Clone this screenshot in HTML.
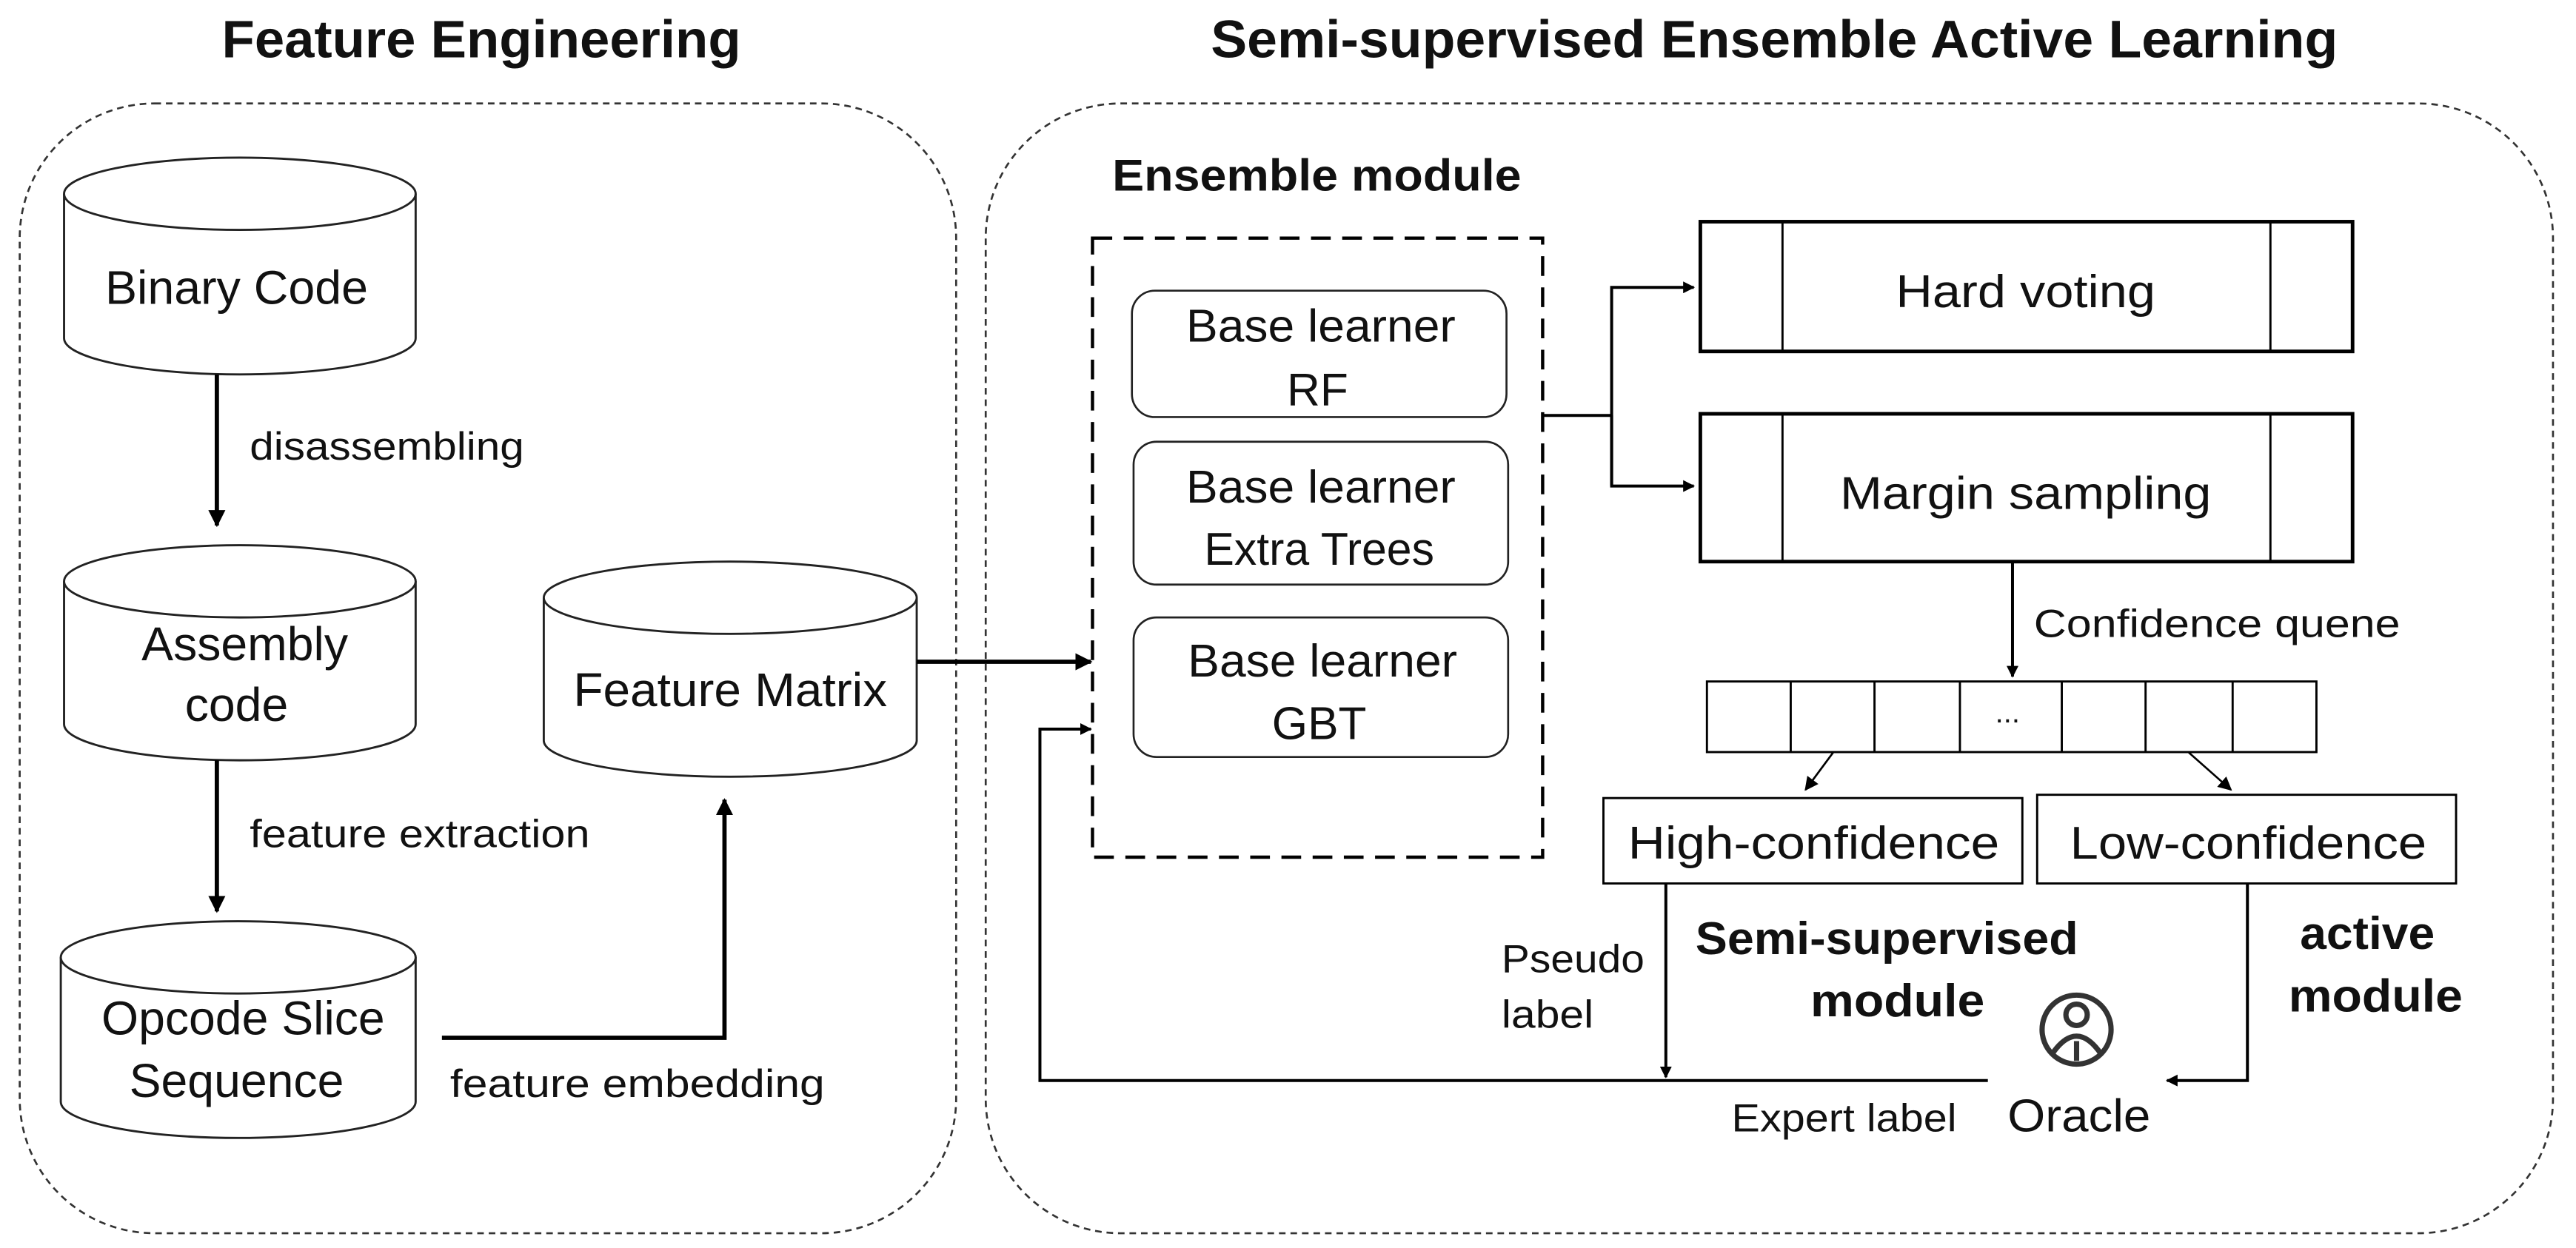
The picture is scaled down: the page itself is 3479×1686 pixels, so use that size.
<!DOCTYPE html>
<html><head><meta charset="utf-8"><style>
html,body{margin:0;padding:0;background:#fff;}
svg{display:block;}
text{font-family:"Liberation Sans",sans-serif;fill:#111;}
.t{font-size:29px;}
.s{font-size:24px;}
.n{font-size:28px;}
.b{font-weight:bold;}
</style></head><body>
<svg width="3479" height="1686" viewBox="0 0 1568 760" preserveAspectRatio="none" xmlns="http://www.w3.org/2000/svg">
<defs>
<marker id="a" viewBox="0 0 10 10" refX="9" refY="5" markerWidth="4" markerHeight="4" orient="auto-start-reverse"><path d="M0,0L10,5L0,10z" fill="#000"/></marker>
<marker id="a2" viewBox="0 0 10 10" refX="9" refY="5" markerWidth="7" markerHeight="7" orient="auto-start-reverse"><path d="M0,0L10,5L0,10z" fill="#000"/></marker>
</defs>
<!-- titles -->
<text x="135" y="35" class="b" style="font-size:32px" textLength="316" lengthAdjust="spacingAndGlyphs">Feature Engineering</text>
<text x="737" y="35" class="b" style="font-size:32px" textLength="686" lengthAdjust="spacingAndGlyphs">Semi-supervised Ensemble Active Learning</text>
<!-- outer boxes -->
<rect x="12" y="63" width="570" height="688" rx="82" fill="none" stroke="#333" stroke-width="1.2" stroke-dasharray="4,3"/>
<rect x="600" y="63" width="954" height="688" rx="82" fill="none" stroke="#333" stroke-width="1.2" stroke-dasharray="4,3"/>
<!-- cylinders -->
<g fill="#fff" stroke="#222" stroke-width="1.3">
<path d="M39,118 L39,206 A107,22 0 0 0 253,206 L253,118"/><ellipse cx="146" cy="118" rx="107" ry="22"/>
<path d="M39,354 L39,441 A107,22 0 0 0 253,441 L253,354"/><ellipse cx="146" cy="354" rx="107" ry="22"/>
<path d="M37,583 L37,671 A108,22 0 0 0 253,671 L253,583"/><ellipse cx="145" cy="583" rx="108" ry="22"/>
<path d="M331,364 L331,451 A113.5,22 0 0 0 558,451 L558,364"/><ellipse cx="444.5" cy="364" rx="113.5" ry="22"/>
</g>
<text x="64" y="185" class="t" textLength="160" lengthAdjust="spacingAndGlyphs">Binary Code</text>
<text x="149" y="402" text-anchor="middle" class="t">Assembly</text>
<text x="144" y="439" text-anchor="middle" class="t">code</text>
<text x="148" y="630" text-anchor="middle" class="t">Opcode Slice</text>
<text x="144" y="668" text-anchor="middle" class="t">Sequence</text>
<text x="349" y="430" class="t" textLength="191" lengthAdjust="spacingAndGlyphs">Feature Matrix</text>
<!-- left arrows -->
<g stroke="#000" stroke-width="2.6" fill="none">
<line x1="132" y1="228" x2="132" y2="320" marker-end="url(#a)"/>
<line x1="132" y1="463" x2="132" y2="555" marker-end="url(#a)"/>
<polyline points="269,632 441,632 441,487" marker-end="url(#a)"/>
<line x1="558" y1="403" x2="664" y2="403" marker-end="url(#a)"/>
</g>
<text x="152" y="280" class="s" textLength="167" lengthAdjust="spacingAndGlyphs">disassembling</text>
<text x="152" y="516" class="s" textLength="207" lengthAdjust="spacingAndGlyphs">feature extraction</text>
<text x="274" y="668" class="s" textLength="228" lengthAdjust="spacingAndGlyphs">feature embedding</text>
<!-- right panel -->
<text x="677" y="116" class="b" style="font-size:27px" textLength="249" lengthAdjust="spacingAndGlyphs">Ensemble module</text>
<rect x="665" y="145" width="274" height="377" fill="none" stroke="#000" stroke-width="2" stroke-dasharray="12,7"/>
<g fill="#fff" stroke="#222" stroke-width="1.2">
<rect x="689" y="177" width="228" height="77" rx="14"/>
<rect x="690" y="269" width="228" height="87" rx="14"/>
<rect x="690" y="376" width="228" height="85" rx="14"/>
</g>
<g class="n" text-anchor="middle">
<text x="804" y="208" textLength="164" lengthAdjust="spacingAndGlyphs">Base learner</text>
<text x="802" y="247">RF</text>
<text x="804" y="306" textLength="164" lengthAdjust="spacingAndGlyphs">Base learner</text>
<text x="803" y="344" textLength="140" lengthAdjust="spacingAndGlyphs">Extra Trees</text>
<text x="805" y="412" textLength="164" lengthAdjust="spacingAndGlyphs">Base learner</text>
<text x="803" y="450">GBT</text>
</g>
<g stroke="#000" stroke-width="1.8" fill="none">
<polyline points="939,253 981,253"/>
<polyline points="981,296 981,175 1031,175" marker-end="url(#a)"/>
<polyline points="981,253 981,296 1031,296" marker-end="url(#a)"/>
</g>
<g fill="#fff" stroke="#000" stroke-width="2.2">
<rect x="1035" y="135" width="397" height="79"/>
<rect x="1035" y="252" width="397" height="90"/>
</g>
<g stroke="#000" stroke-width="1.3">
<line x1="1085" y1="135" x2="1085" y2="214"/><line x1="1382" y1="135" x2="1382" y2="214"/>
<line x1="1085" y1="252" x2="1085" y2="342"/><line x1="1382" y1="252" x2="1382" y2="342"/>
</g>
<text x="1154" y="187" class="n" textLength="158" lengthAdjust="spacingAndGlyphs">Hard voting</text>
<text x="1120" y="310" class="n" textLength="226" lengthAdjust="spacingAndGlyphs">Margin sampling</text>
<line x1="1225" y1="342" x2="1225" y2="412" stroke="#000" stroke-width="1.8" marker-end="url(#a)"/>
<text x="1238" y="388" class="s" textLength="223" lengthAdjust="spacingAndGlyphs">Confidence quene</text>
<!-- queue -->
<g fill="none" stroke="#000" stroke-width="1.3">
<rect x="1039" y="415" width="371" height="43"/>
<line x1="1090" y1="415" x2="1090" y2="458"/>
<line x1="1141" y1="415" x2="1141" y2="458"/>
<line x1="1193" y1="415" x2="1193" y2="458"/>
<line x1="1255" y1="415" x2="1255" y2="458"/>
<line x1="1306" y1="415" x2="1306" y2="458"/>
<line x1="1359" y1="415" x2="1359" y2="458"/>
</g>
<text x="1222" y="440" text-anchor="middle" style="font-size:18px">...</text>
<g stroke="#000" stroke-width="1.2">
<line x1="1116" y1="458" x2="1099" y2="481" marker-end="url(#a2)"/>
<line x1="1332" y1="458" x2="1358" y2="481" marker-end="url(#a2)"/>
</g>
<g fill="#fff" stroke="#000" stroke-width="1.3">
<rect x="976" y="486" width="255" height="52"/>
<rect x="1240" y="484" width="255" height="54"/>
</g>
<text x="991" y="523" class="n" textLength="226" lengthAdjust="spacingAndGlyphs">High-confidence</text>
<text x="1260" y="523" class="n" textLength="217" lengthAdjust="spacingAndGlyphs">Low-confidence</text>
<g stroke="#000" stroke-width="1.8" fill="none">
<line x1="1014" y1="538" x2="1014" y2="656" marker-end="url(#a)"/>
<polyline points="1368,538 1368,658 1319,658" marker-end="url(#a)"/>
<polyline points="1210,658 633,658 633,444 664,444" marker-end="url(#a)"/>
</g>
<text x="914" y="592" class="s" textLength="87" lengthAdjust="spacingAndGlyphs">Pseudo</text>
<text x="914" y="626" class="s" textLength="56" lengthAdjust="spacingAndGlyphs">label</text>
<text x="1032" y="581" class="b" style="font-size:28px" textLength="233" lengthAdjust="spacingAndGlyphs">Semi-supervised</text>
<text x="1102" y="619" class="b" style="font-size:28px" textLength="106" lengthAdjust="spacingAndGlyphs">module</text>
<text x="1400" y="578" class="b" style="font-size:28px" textLength="82" lengthAdjust="spacingAndGlyphs">active</text>
<text x="1393" y="616" class="b" style="font-size:28px" textLength="106" lengthAdjust="spacingAndGlyphs">module</text>
<!-- oracle icon -->
<g fill="none" stroke="#333" stroke-width="3.2">
<circle cx="1264" cy="627" r="21"/>
<circle cx="1264" cy="618" r="6.5"/>
<path d="M1249,642 Q1264,620 1279,642"/>
<line x1="1264" y1="634" x2="1264" y2="646"/>
</g>
<text x="1222" y="689" class="n" textLength="87" lengthAdjust="spacingAndGlyphs">Oracle</text>
<text x="1054" y="689" class="s" textLength="137" lengthAdjust="spacingAndGlyphs">Expert label</text>
</svg>
</body></html>
